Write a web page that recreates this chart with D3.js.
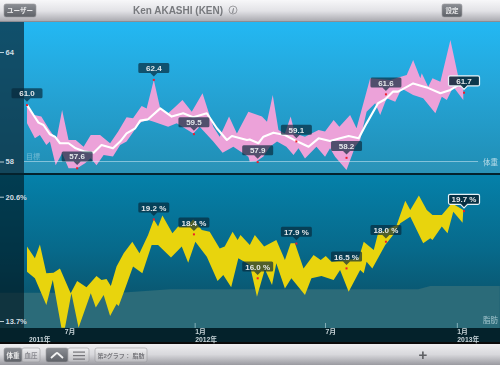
<!DOCTYPE html>
<html><head><meta charset="utf-8">
<style>
html,body{margin:0;padding:0;background:#000;overflow:hidden}
svg{display:block;font-family:"Liberation Sans","Noto Sans CJK JP",sans-serif}
</style>
<script src="https://cdnjs.cloudflare.com/ajax/libs/d3/7.8.5/d3.min.js"></script>
</head><body><svg id="c" width="500" height="365" style="filter:blur(0.35px)"></svg>
<script>
// [day since 2011-05-12, value]
const weightUpper=[[0,61.1],[10,60.55],[20,60.46],[30,59.82],[41,59.18],[49,60.82],[58,59.18],[68,59.18],[79,58.81],[89,59.45],[102,59.45],[116,59.0],[127,59.63],[139,60.42],[148,60.37],[160,61.04],[167,60.91],[177,62.47],[186,60.91],[197,60.64],[207,61.0],[217,61.37],[230,60.73],[245,61.74],[260,59.91],[269,59.36],[282,60.46],[293,59.54],[309,60.73],[328,60.46],[335,60.18],[343,61.64],[351,59.73],[360,59.54],[368,60.46],[374,59.54],[388,59.36],[407,59.73],[416,59.64],[428,60.27],[436,59.91],[451,60.55],[460,59.82],[472,61.55],[479,62.56],[507,62.47],[530,62.74],[539,63.56],[549,62.56],[551,62.83],[560,62.1],[566,62.56],[577,62.37],[591,64.66],[602,62.65],[609,61.92]];
const weightLower=[[0,60.09],[11,59.27],[18,59.45],[27,58.9],[32,59.09],[40,57.8],[49,58.45],[58,57.63],[70,57.63],[81,57.9],[89,58.18],[97,57.8],[107,58.36],[120,58.27],[130,58.9],[139,59.09],[155,60.0],[160,60.18],[169,60.27],[177,60.18],[197,59.91],[209,60.09],[232,59.54],[241,59.91],[260,59.09],[273,58.48],[288,58.81],[309,58.26],[311,57.99],[321,58.03],[330,58.27],[339,58.81],[349,59.09],[362,58.81],[372,58.36],[379,58.72],[388,58.17],[404,58.81],[416,58.26],[423,58.72],[430,58.26],[446,57.53],[458,58.81],[465,59.18],[474,60.73],[486,61.19],[493,60.55],[502,61.46],[514,61.28],[523,62.0],[539,61.64],[553,61.46],[570,60.64],[579,61.55],[586,61.37],[595,62.1],[609,61.37]];
const weightMean=[[0,61.1],[9,60.55],[16,60.13],[23,60.0],[32,59.49],[39,59.36],[46,59.0],[58,59.0],[68,58.72],[81,58.54],[93,58.48],[104,58.9],[120,58.72],[130,59.09],[139,59.54],[151,59.82],[158,60.24],[169,60.31],[186,60.91],[202,60.46],[218,60.64],[232,60.42],[251,60.64],[265,59.82],[279,59.18],[286,59.4],[307,59.18],[311,59.21],[323,59.0],[330,59.36],[344,59.58],[360,59.45],[376,59.12],[393,58.81],[407,59.27],[423,59.12],[437,59.27],[449,59.4],[463,59.27],[474,60.09],[490,61.19],[500,61.41],[511,61.83],[518,61.83],[539,62.28],[558,62.06],[577,61.74],[591,61.92],[602,62.19],[609,62.1]];
const fatUpper=[[0,17.83],[11,17.18],[18,17.95],[27,16.35],[37,16.38],[46,16.62],[61,15.24],[70,15.92],[83,15.57],[97,16.2],[104,15.98],[111,16.03],[117,15.64],[125,16.72],[135,17.46],[147,18.1],[157,17.46],[169,18.47],[177,19.34],[183,18.94],[189,19.55],[203,18.57],[211,18.94],[223,18.94],[232,19.34],[244,18.75],[255,18.66],[269,17.73],[276,17.83],[287,18.66],[294,18.2],[298,18.47],[311,17.92],[318,18.47],[331,17.83],[348,18.2],[360,17.09],[368,18.01],[374,18.01],[386,16.62],[400,17.36],[410,17.09],[417,17.31],[425,16.99],[446,17.09],[463,17.18],[470,18.1],[484,17.64],[490,18.57],[516,19.03],[528,20.38],[535,19.86],[547,20.66],[558,19.86],[566,19.58],[579,19.58],[593,20.23],[609,19.86]];
const fatLower=[[0,16.44],[11,16.07],[27,14.59],[36,15.98],[48,13.33],[53,13.33],[62,15.24],[72,13.33],[89,15.24],[96,14.45],[107,15.15],[116,13.98],[125,14.64],[128,14.53],[137,15.51],[148,16.72],[161,16.35],[174,17.92],[183,17.92],[201,17.23],[216,17.83],[225,16.94],[235,18.1],[251,17.27],[266,15.92],[274,16.25],[285,15.57],[295,17.18],[311,16.81],[321,15.05],[332,16.57],[342,15.7],[348,16.9],[360,15.51],[369,16.07],[388,15.15],[397,16.07],[411,16.2],[428,15.98],[437,16.53],[449,15.33],[465,16.53],[470,16.35],[474,16.99],[482,16.62],[500,17.92],[511,18.47],[521,19.12],[535,19.49],[553,18.01],[563,18.29],[566,18.2],[579,18.94],[587,18.57],[595,19.77],[608,19.16]];
const fatBase=[[-40,15.27],[130,15.27],[200,15.46],[546,15.46],[563,15.64],[660,15.64]];
const weightCallouts=[[0,61.09,"61.0"],[70,57.63,"57.6"],[177,62.47,"62.4"],[233,59.5,"59.5"],[322,57.97,"57.9"],[376,59.1,"59.1"],[446,58.2,"58.2"],[501,61.68,"61.6"],[610,61.77,"61.7"]];
const fatCallouts=[[177,19.34,"19.2 %"],[233,18.51,"18.4 %"],[322,16.07,"16.0 %"],[376,18.0,"17.9 %"],[446,16.62,"16.5 %"],[501,18.1,"18.0 %"],[610,19.8,"19.7 %"]];
const weightTicks=[64,58];
const fatTicks=[20.6,13.7];
const monthTicks=["2012-01-01","2012-07-01","2013-01-01"];
const monthLabels=["1月","7月","1月"];
const yearLabels=["2012年","","2013年"];
const firstMonthDate="2011-07-01";
const startDate=new Date(Date.UTC(2011,4,12));

const W=500,H=365,svg=d3.select("#c");
const dayDate=d=>d3.utcDay.offset(startDate,d);
const x=d3.scaleUtc().domain([dayDate(0),dayDate(609)]).range([27,463.3]);
const yW=d3.scaleLinear().domain([58,64]).range([161.5,52]);
const yF=d3.scaleLinear().domain([13.7,20.6]).range([321,196.7]);

const defs=svg.append("defs");
function grad(id,stops){const g=defs.append("linearGradient").attr("id",id).attr("x1",0).attr("y1",0).attr("x2",0).attr("y2",1);
 stops.forEach(s=>g.append("stop").attr("offset",s[0]).attr("stop-color",s[1]));}
grad("top",[[0,"#23b8f3"],[.45,"#25a4d6"],[1,"#208db3"]]);
grad("bot",[[0,"#0581aa"],[.5,"#07698a"],[1,"#0c4a5e"]]);
grad("bar1",[[0,"#f7f7f9"],[.5,"#e2e2e6"],[1,"#a6a6ac"]]);
grad("bar2",[[0,"#eeeef0"],[.5,"#d8d8dc"],[1,"#9a9aa0"]]);
grad("btn",[[0,"#8b8e94"],[1,"#5e6167"]]);
grad("seg",[[0,"#f0f0f2"],[1,"#bcbcc0"]]);

const R=(a,b,c,d,f)=>svg.append("rect").attr("x",a).attr("y",b).attr("width",c).attr("height",d).attr("fill",f);
R(0,22,W,152,"url(#top)");
R(0,174,W,154,"url(#bot)");
R(0,161,W,12,"rgba(255,255,255,.05)");
R(0,173,W,2,"#04222d");

const ln=(sy)=>d3.line().x(d=>x(dayDate(d[0]))).y(d=>sy(d[1]));
const band=(u,l,sy)=>ln(sy)(u.concat(l.slice().reverse()))+"Z";

// fat base area
svg.append("path").attr("d",d3.area().x(d=>x(dayDate(d[0]))).y0(328).y1(d=>yF(d[1]))(fatBase)).attr("fill","#2b6b79");

// bands
svg.append("path").attr("d",band(weightUpper,weightLower,yW)).attr("fill","#eca2d9");
svg.append("path").attr("d",band(fatUpper,fatLower,yF)).attr("fill","#e8d40d");

// target line
svg.append("line").attr("x1",24).attr("x2",478).attr("y1",yW(58)).attr("y2",yW(58)).attr("stroke","rgba(220,240,250,.5)").attr("stroke-width",1.2);

// mean line
svg.append("path").attr("d",ln(yW)(weightMean)).attr("fill","none").attr("stroke","#fff").attr("stroke-width",2.1).attr("stroke-linejoin","round");

// x strip
R(0,328,W,14,"#04222b");
R(0,342,W,2,"#0a0a0a");

// left panel
R(0,22,24,151,"rgba(10,40,55,.72)");
R(0,175,24,153,"rgba(0,20,28,.62)");

// axes
const styleAxis=(g)=>{g.select(".domain").remove();g.selectAll("line").attr("stroke","rgba(230,240,245,.8)").attr("stroke-width",1);
 g.selectAll("text").attr("fill","#d2dee3").attr("font-size",7.5).attr("font-weight","bold");};
svg.append("g").attr("transform","translate(4,0)").call(d3.axisLeft(yW).tickValues(weightTicks).tickSize(4).tickPadding(0).tickFormat(d=>d)).call(styleAxis)
 .selectAll("text").attr("text-anchor","start").attr("x",1.5);
svg.append("g").attr("transform","translate(4,0)").call(d3.axisLeft(yF).tickValues(fatTicks).tickSize(4).tickPadding(0).tickFormat(d=>d.toFixed(1)+"%")).call(styleAxis)
 .selectAll("text").attr("text-anchor","start").attr("x",1.5);
const xTickDates=monthTicks.map(d=>new Date(d+"T00:00:00Z"));
const xAxisG=svg.append("g").attr("transform","translate(0,328)").call(d3.axisTop(x).tickValues(xTickDates).tickSize(5).tickFormat("")).call(styleAxis);
xAxisG.selectAll("line").attr("stroke","rgba(190,220,225,.6)");
const monthText=(px,py,t)=>svg.append("text").attr("x",px).attr("y",py).attr("fill","#c8d4d8").attr("font-size",6.8).attr("font-weight","bold").text(t);
xTickDates.forEach((d,i)=>{
 monthText(x(d)+.5,333.6,monthLabels[i]);
 if(yearLabels[i])monthText(x(d)+.5,341.8,yearLabels[i]);
});
monthText(x(new Date(firstMonthDate+"T00:00:00Z"))+2,333.6,"7月");
monthText(29,341.8,"2011年");

// series labels
const lab=(tx,ty,t,fill,anchor,size)=>svg.append("text").attr("x",tx).attr("y",ty).attr("fill",fill).attr("font-size",size||7).attr("text-anchor",anchor||"start").text(t);
lab(26,159,"目標","rgba(225,240,245,.4)");
lab(498,164.5,"体重","rgba(225,240,245,.75)","end",7.5);
lab(498,323,"脂肪","rgba(200,225,232,.75)","end",7.5);

// callouts
function callouts(list,sy){
 const n=list.length;
 list.forEach((c,i)=>{
  const px=x(dayDate(c[0])),py=sy(c[1]),sel=i===n-1,w=31,h=10,b=py-6.8,t=b-h;
  const p=`M${px-w/2+1.5},${t}H${px+w/2-1.5}Q${px+w/2},${t} ${px+w/2},${t+1.5}V${b-1.5}Q${px+w/2},${b} ${px+w/2-1.5},${b}H${px+3.5}L${px},${b+3.5}L${px-3.5},${b}H${px-w/2+1.5}Q${px-w/2},${b} ${px-w/2},${b-1.5}V${t+1.5}Q${px-w/2},${t} ${px-w/2+1.5},${t}Z`;
  svg.append("path").attr("d",p).attr("fill",sel?"rgba(8,35,50,.85)":"rgba(8,40,58,.68)").attr("stroke",sel?"#e6f2f7":"none").attr("stroke-width",sel?1.2:0);
  svg.append("text").attr("x",px).attr("y",b-2).attr("text-anchor","middle").attr("fill","#e4e8ea").attr("font-size",8).attr("font-weight","bold").text(c[2]);
  svg.append("rect").attr("x",px-1).attr("y",py-1).attr("width",2).attr("height",2).attr("fill","#ee1c2c");
 });
}
callouts(weightCallouts,yW);
callouts(fatCallouts,yF);

// toolbars
R(0,0,W,22,"url(#bar1)");
svg.append("line").attr("x1",0).attr("x2",W).attr("y1",21.5).attr("y2",21.5).attr("stroke","#8c8c92");
R(0,344,W,21,"url(#bar2)");

function btn(bx,by,w,h,fill,txt,col,size){
 svg.append("rect").attr("x",bx).attr("y",by).attr("width",w).attr("height",h).attr("rx",2).attr("fill",fill).attr("stroke","#9a9a9f").attr("stroke-width",.6);
 if(txt)svg.append("text").attr("x",bx+w/2).attr("y",by+h/2+2.6).attr("text-anchor","middle").attr("fill",col).attr("font-size",size||7).attr("font-weight","bold").text(txt);
}
btn(4,4,32,13,"url(#btn)","ユーザー","#e8e8ea",6.5);
btn(442,4,20,13,"url(#btn)","設定","#e8e8ea",6.5);
svg.append("text").attr("x",178).attr("y",14).attr("text-anchor","middle").attr("fill","#77797d").attr("font-size",10).attr("font-weight","bold").text("Ken AKASHI (KEN)");
svg.append("circle").attr("cx",233).attr("cy",10).attr("r",4).attr("fill","none").attr("stroke","#8a8a8e").attr("stroke-width",.8);
svg.append("text").attr("x",233).attr("y",12.6).attr("text-anchor","middle").attr("fill","#77797d").attr("font-size",7).attr("font-style","italic").attr("font-weight","bold").text("i");

btn(4,348,18,14,"url(#btn)","体重","#f0f0f0",6.5);
btn(22,348,18,14,"url(#seg)","血圧","#8a8a90",6.5);
btn(46,348,22,14,"url(#btn)");
btn(68,348,21,14,"url(#seg)");
svg.append("path").attr("d","M51,358L56,353.5Q57,352.5 58,353.5L63,358").attr("fill","none").attr("stroke","#f2f2f2").attr("stroke-width",1.8);
[351.5,355,358.5].forEach(v=>svg.append("rect").attr("x",73).attr("y",v).attr("width",12).attr("height",1.2).attr("fill","#75757a"));
btn(95,348,52,14,"url(#seg)","第2グラフ： 脂肪","#77777c",6);
svg.append("text").attr("x",423).attr("y",359.5).attr("text-anchor","middle").attr("fill","#5f6064").attr("font-size",15).attr("font-weight","bold").text("+");
</script></body></html>
